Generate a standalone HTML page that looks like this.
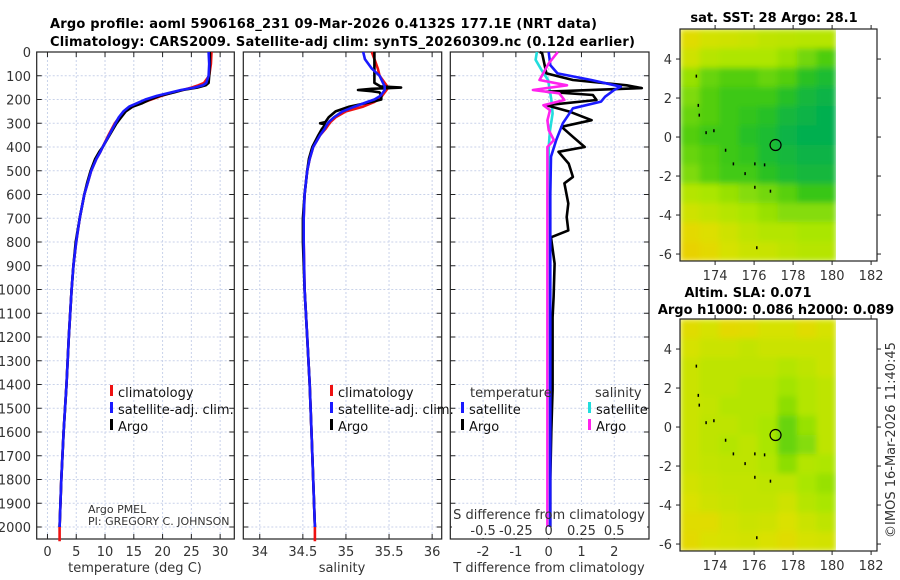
<!DOCTYPE html>
<html><head><meta charset="utf-8"><style>
html,body{margin:0;padding:0;background:#fff;}
svg{display:block;font-family:"DejaVu Sans","Liberation Sans",sans-serif;}
.tk{font-size:13px;fill:#333;}
.ttl{font-size:13px;font-weight:bold;fill:#000;}
.lg{font-size:13px;fill:#111;}
</style></head><body>
<svg id="fig" width="900" height="580" viewBox="0 0 900 580" xmlns="http://www.w3.org/2000/svg">
<defs>
<filter id="blur" x="0" y="0" width="1" height="1"><feGaussianBlur stdDeviation="3" edgeMode="duplicate"/></filter>
<clipPath id="c1"><rect x="680" y="29" width="156" height="232"/></clipPath>
<clipPath id="c2"><rect x="680" y="319" width="156" height="232"/></clipPath>
</defs>
<text class="ttl" x="50" y="28" textLength="547">Argo profile: aoml 5906168_231 09-Mar-2026 0.4132S 177.1E (NRT data)</text>
<text class="ttl" x="50" y="46" textLength="585">Climatology: CARS2009. Satellite-adj clim: synTS_20260309.nc (0.12d earlier)</text>
<text class="ttl" x="774" y="22" text-anchor="middle">sat. SST: 28 Argo: 28.1</text>
<text class="ttl" x="748" y="297" text-anchor="middle">Altim. SLA: 0.071</text>
<text class="ttl" x="776" y="314" text-anchor="middle">Argo h1000: 0.086 h2000: 0.089</text>
<text class="tk" transform="translate(895,440) rotate(-90)" text-anchor="middle">©IMOS 16-Mar-2026 11:40:45</text>
<g id="plots"></g>
</svg>
<script>
// ---- data ----
const depthTicks = [0,100,200,300,400,500,600,700,800,900,1000,1100,1200,1300,1400,1500,1600,1700,1800,1900,2000];
const tempTicks = [0,5,10,15,20,25,30];
const salTicks = [34,34.5,35,35.5,36];
const salTickLabels = ["34","34.5","35","35.5","36"];
const dtTicks = [-2,-1,0,1,2];
const dsTicks = [-0.5,-0.25,0,0.25,0.5];
const dsTickLabels = ["-0.5","-0.25","0","0.25","0.5"];

const tDepth = [0,50,100,130,140,150,160,170,185,200,215,230,250,275,300,350,400,420,450,500,550,600,700,800,900,1000,1200,1400,1600,1800,2000];
const tArgo = [28.2,28.2,28.1,28.0,27.5,26.0,23.5,22.0,19.5,17.8,16.5,14.8,13.6,12.8,12.0,10.8,9.6,9.0,8.3,7.5,6.9,6.4,5.6,4.9,4.5,4.2,3.7,3.3,2.8,2.4,2.1];
const tClimDepth = [0,50,100,130,140,150,160,170,185,200,215,230,250,275,300,350,400,420,450,500,550,600,700,800,900,1000,1200,1400,1600,1800,2000,2060];
const tClim = [28.5,28.4,28.1,27.2,26.2,25.0,23.5,21.8,19.8,18.0,16.3,14.8,13.5,12.5,11.7,10.6,9.6,9.2,8.5,7.6,7.0,6.4,5.6,5.0,4.5,4.2,3.7,3.3,2.8,2.4,2.1,2.1];
const tSat = [28.0,28.1,28.0,27.6,27.0,25.5,23.2,21.5,19.0,17.0,15.6,14.2,13.2,12.4,11.8,10.7,9.6,9.2,8.5,7.6,7.0,6.4,5.6,5.0,4.5,4.2,3.7,3.3,2.8,2.4,2.1];

const sDepth = [0,30,70,100,130,145,150,155,160,165,170,185,200,210,230,250,275,295,300,305,325,350,400,450,500,600,700,800,1000,1200,1400,1600,1800,2000];
const sArgo = [35.33,35.33,35.33,35.33,35.33,35.40,35.64,35.30,35.14,35.30,35.39,35.41,35.41,35.30,35.04,34.88,34.80,34.76,34.70,34.76,34.72,34.68,34.61,34.57,34.55,34.52,34.50,34.50,34.52,34.55,34.58,34.60,34.62,34.64];
const sClimDepth = [0,30,70,100,130,145,150,155,160,165,170,185,200,210,230,250,275,295,300,305,325,350,400,450,500,600,700,800,1000,1200,1400,1600,1800,2000,2060];
const sClim = [35.30,35.33,35.37,35.39,35.45,35.48,35.49,35.48,35.47,35.46,35.45,35.42,35.38,35.33,35.20,35.00,34.88,34.82,34.81,34.80,34.76,34.70,34.62,34.58,34.55,34.52,34.51,34.51,34.52,34.55,34.58,34.60,34.62,34.64,34.64];
const sSat = [35.20,35.22,35.30,35.39,35.43,35.45,35.45,35.45,35.45,35.44,35.43,35.40,35.33,35.25,35.10,34.96,34.86,34.80,34.79,34.78,34.75,34.70,34.62,34.58,34.55,34.52,34.51,34.51,34.52,34.55,34.58,34.60,34.62,34.64];

const dtArgoDepth = [0,5,90,118,140,152,167,181,202,224,252,287,315,357,400,420,470,526,553,638,695,751,780,891,1032,1117,1300,1420,1600,1800,2000];
const dtArgo = [-0.27,-0.2,-0.07,0.74,2.38,2.84,-0.07,1.35,1.46,-0.07,0.65,1.31,0.39,0.74,1.1,0.3,0.61,0.74,0.48,0.6,0.55,0.6,0.07,0.18,0.15,0.12,0.12,0.12,0.08,0.05,0.05];
const dtSatDepth = [0,55,90,118,146,160,188,209,237,300,371,441,600,1000,1500,2000];
const dtSat = [0.0,0.05,0.27,1.3,2.2,2.0,1.72,1.6,0.74,0.43,0.23,0.07,0.05,0.05,0.05,0.05];
const dsSatDepth = [0,33,80,118,200,259,330,400,1000,2000];
const dsSat = [-0.09,-0.1,-0.05,-0.004,0.02,0.03,0.01,0,0,0];
const dsArgoDepth = [0,48,118,140,160,174,202,224,245,288,329,371,400,600,1000,2000];
const dsArgo = [0.07,0,-0.07,0.14,-0.12,0.08,0.12,-0.04,0.01,-0.01,0,0.04,-0.01,-0.01,-0.01,-0.01];

const lonTicks = [174,176,178,180,182];
const latTicks = [4,2,0,-2,-4,-6];
const argoLon = [177.1];
const argoLat = [-0.41];
const sstGrid = [
[0.88,0.8,0.78,0.75,0.7,0.68,0.66,0.66],
[0.78,0.66,0.62,0.62,0.62,0.55,0.45,0.35],
[0.55,0.42,0.36,0.36,0.42,0.36,0.22,0.15],
[0.48,0.36,0.3,0.3,0.3,0.2,0.1,0.05],
[0.42,0.36,0.3,0.25,0.2,0.1,0.05,0.0],
[0.36,0.3,0.3,0.2,0.15,0.05,0.0,0.0],
[0.42,0.36,0.3,0.25,0.15,0.1,0.05,0.05],
[0.48,0.38,0.32,0.32,0.22,0.15,0.1,0.1],
[0.65,0.6,0.55,0.5,0.45,0.38,0.28,0.28],
[0.78,0.72,0.66,0.6,0.55,0.5,0.5,0.5],
[0.9,0.86,0.78,0.7,0.65,0.65,0.6,0.6],
[0.94,0.9,0.82,0.76,0.75,0.7,0.66,0.66]];
const slaGrid = [
[0.88,0.82,0.9,0.88,0.82,0.82,0.88,0.82],
[0.82,0.76,0.76,0.72,0.76,0.76,0.76,0.76],
[0.76,0.7,0.7,0.7,0.7,0.65,0.7,0.76],
[0.76,0.7,0.7,0.65,0.65,0.58,0.65,0.7],
[0.76,0.72,0.65,0.65,0.65,0.52,0.65,0.7],
[0.76,0.7,0.7,0.65,0.6,0.42,0.55,0.7],
[0.76,0.7,0.65,0.7,0.6,0.42,0.5,0.7],
[0.76,0.72,0.7,0.7,0.65,0.52,0.65,0.62],
[0.8,0.75,0.72,0.72,0.7,0.7,0.6,0.55],
[0.84,0.78,0.75,0.72,0.72,0.78,0.66,0.6],
[0.88,0.88,0.8,0.76,0.78,0.84,0.76,0.7],
[0.9,0.84,0.82,0.8,0.84,0.88,0.82,0.8]];

// ---- drawing ----
const NS = "http://www.w3.org/2000/svg";
const root = document.getElementById("plots");
function mk(tag, attrs, parent){
  const e = document.createElementNS(NS, tag);
  for (const k in attrs) e.setAttribute(k, attrs[k]);
  (parent||root).appendChild(e);
  return e;
}
const TOP = 52, BOT = 539;
const yD = d => TOP + d * 0.2375;

function axisPanel(name, x0, x1, xmin, xmax, ticks, labels, showY){
  const xs = v => x0 + (v - xmin) / (xmax - xmin) * (x1 - x0);
  const g = mk("g", {});
  
  
  ticks.forEach((t,i) => {
    const gl = mk("line", {x1: xs(t), x2: xs(t), y1: TOP, y2: BOT, stroke: "#c9d2ea", "stroke-dasharray": "2,2", "stroke-width": 1}, g);
    
    
    mk("line", {x1: xs(t), x2: xs(t), y1: BOT, y2: BOT-5, stroke: "#222"}, g);
    mk("line", {x1: xs(t), x2: xs(t), y1: TOP, y2: TOP+5, stroke: "#222"}, g);
    const tl = mk("text", {x: xs(t), y: 556, "text-anchor": "middle", class: "tk"}, g);
    
    
    tl.textContent = labels[i];
  });
  depthTicks.forEach(d => {
    const gl = mk("line", {x1: x0, x2: x1, y1: yD(d), y2: yD(d), stroke: "#c9d2ea", "stroke-dasharray": "2,2", "stroke-width": 1}, g);
    
    
    mk("line", {x1: x0, x2: x0+5, y1: yD(d), y2: yD(d), stroke: "#222"}, g);
    mk("line", {x1: x1, x2: x1-5, y1: yD(d), y2: yD(d), stroke: "#222"}, g);
    if (showY){
      const tl = mk("text", {x: 31, y: yD(d)+5, "text-anchor": "end", class: "tk"}, g);
      
      
      tl.textContent = d;
    }
  });
  const fr = mk("rect", {x: x0, y: TOP, width: x1-x0, height: BOT-TOP, fill: "none", stroke: "#222", "stroke-width": 1.2}, g);
  
  
  return {g, xs};
}
function series(p, depths, vals, color, name, scale){
  const sc = scale || 1;
  const pts = depths.map((d,i) => p.xs(vals[i]*sc).toFixed(1) + "," + yD(d).toFixed(1)).join(" ");
  const l = mk("polyline", {points: pts, fill: "none", stroke: color, "stroke-width": 2.6, "stroke-linejoin": "round"}, p.g);
  
  
}
function legendItem(g, x, y, color, label, name){
  const m = mk("rect", {x: x, y: y-7, width: 3, height: 11, fill: color}, g);
  
  
  const t = mk("text", {x: x+8, y: y+5, class: "lg"}, g);
  
  
  t.textContent = label;
}
function txt(g, x, y, s, name, anchor, size){
  const t = mk("text", {x: x, y: y, class: "tk", "text-anchor": anchor||"start"}, g);
  if (size) t.setAttribute("style", "font-size:"+size+"px");
  
  
  t.textContent = s;
}

// Panel 1 temperature
const p1 = axisPanel("temperature", 36.7, 234.3, -1.87, 32.46, tempTicks, tempTicks.map(String), true);
series(p1, tClimDepth, tClim, "#ee1111", "temperature-climatology-line");
series(p1, tDepth, tArgo, "#000000", "temperature-argo-line");
series(p1, tDepth, tSat, "#1a1aff", "temperature-satellite-line");
legendItem(p1.g, 110, 392, "#ee1111", "climatology", "legend-climatology");
legendItem(p1.g, 110, 409, "#1a1aff", "satellite-adj. clim.", "legend-satellite");
legendItem(p1.g, 110, 426, "#000", "Argo", "legend-argo");
txt(p1.g, 88, 513, "Argo PMEL", "argo-pmel-label", "start", 11);
txt(p1.g, 88, 525, "PI: GREGORY C. JOHNSON", "pi-label", "start", 11);
txt(p1.g, 135, 572, "temperature (deg C)", "temperature-axis-title", "middle");

// Panel 2 salinity
const p2 = axisPanel("salinity", 243.3, 441.7, 33.809, 36.111, salTicks, salTickLabels, false);
series(p2, sClimDepth, sClim, "#ee1111", "salinity-climatology-line");
series(p2, sDepth, sArgo, "#000000", "salinity-argo-line");
series(p2, sDepth, sSat, "#1a1aff", "salinity-satellite-line");
legendItem(p2.g, 330, 392, "#ee1111", "climatology", "legend2-climatology");
legendItem(p2.g, 330, 409, "#1a1aff", "satellite-adj. clim.", "legend2-satellite");
legendItem(p2.g, 330, 426, "#000", "Argo", "legend2-argo");
txt(p2.g, 342, 572, "salinity", "salinity-axis-title", "middle");

// Panel 3 differences
const p3 = axisPanel("difference", 450.3, 649, -3.0, 3.06, dtTicks, dtTicks.map(String), false);
const wb = mk("rect", {x: 452, y: 505, width: 195, height: 33, fill: "#fff"}, p3.g);


series(p3, dsSatDepth, dsSat, "#22dddd", "salinity-satellite-diff-line", 4);
series(p3, dtArgoDepth, dtArgo, "#000000", "temperature-argo-diff-line");
series(p3, dtSatDepth, dtSat, "#1a1aff", "temperature-satellite-diff-line");
series(p3, dsArgoDepth, dsArgo, "#ff22ee", "salinity-argo-diff-line", 4);
txt(p3.g, 549, 519, "S difference from climatology", "s-difference-title", "middle");
dsTicks.forEach((t,i) => {
  const tl = mk("text", {x: p3.xs(t*4), y: 535, "text-anchor": "middle", class: "tk"}, p3.g);
  
  
  tl.textContent = dsTickLabels[i];
});
txt(p3.g, 549, 572, "T difference from climatology", "t-difference-title", "middle");
txt(p3.g, 470, 397, "temperature", "legend3-temperature-header");
txt(p3.g, 595, 397, "salinity", "legend3-salinity-header");
legendItem(p3.g, 461, 409, "#1a1aff", "satellite", "legend3-temp-satellite");
legendItem(p3.g, 461, 426, "#000", "Argo", "legend3-temp-argo");
legendItem(p3.g, 588, 409, "#22dddd", "satellite", "legend3-sal-satellite");
legendItem(p3.g, 588, 426, "#ff22ee", "Argo", "legend3-sal-argo");

// Maps
function cmap(t){
  const stops = [[0,[0,175,80]],[0.3,[60,200,20]],[0.6,[170,230,0]],[0.85,[220,225,0]],[1,[240,200,0]]];
  for (let i=1;i<stops.length;i++){
    if (t <= stops[i][0]){
      const a = stops[i-1], b = stops[i], f = (t-a[0])/(b[0]-a[0]);
      return "rgb(" + a[1].map((c,j)=>Math.round(c+(b[1][j]-c)*f)).join(",") + ")";
    }
  }
  return "rgb(240,200,0)";
}
function drawMap(name, top, grid, clipId){
  const bottom = top + 232;
  const lonX = lon => 680 + (lon - 172.2) * 19.5;
  const latY = lat => top + (5.54 - lat) * 19.5;
  const g = mk("g", {});
  
  
  const cg = mk("g", {"clip-path": "url(#" + clipId + ")"}, g);
  const bg = mk("g", {filter: "url(#blur)"}, cg);
  const cw = 156 / grid[0].length, ch = 232 / grid.length;
  grid.forEach((row, r) => row.forEach((v, c) => {
    const cell = mk("rect", {x: 680 + c*cw, y: top + r*ch, width: cw+0.5, height: ch+0.5, fill: cmap(v)}, bg);
    
    
  }));
  const fr = mk("rect", {x: 680, y: top, width: 197, height: 232, fill: "none", stroke: "#222", "stroke-width": 1.2}, g);
  
  
  lonTicks.forEach(l => {
    mk("line", {x1: lonX(l), x2: lonX(l), y1: bottom, y2: bottom+4, stroke: "#222"}, g);
    mk("line", {x1: lonX(l), x2: lonX(l), y1: top, y2: top-4, stroke: "#222"}, g);
    const tl = mk("text", {x: lonX(l), y: bottom + 19, "text-anchor": "middle", class: "tk"}, g);
    
    
    tl.textContent = l;
  });
  latTicks.forEach(l => {
    mk("line", {x1: 680, x2: 676, y1: latY(l), y2: latY(l), stroke: "#222"}, g);
    mk("line", {x1: 877, x2: 881, y1: latY(l), y2: latY(l), stroke: "#222"}, g);
    const tl = mk("text", {x: 672, y: latY(l)+5, "text-anchor": "end", class: "tk"}, g);
    
    
    tl.textContent = l;
  });
  const isl = [[173.0,3.2],[173.1,1.7],[173.15,1.2],[173.5,0.3],[173.9,0.4],[174.5,-0.6],[174.9,-1.3],[175.5,-1.8],[176.0,-1.3],[176.5,-1.35],[176.0,-2.5],[176.8,-2.7],[176.1,-5.6]];
  isl.forEach(p => {
    const d = mk("rect", {x: lonX(p[0]), y: latY(p[1]), width: 1.5, height: 3, fill: "#000"}, g);
    
    
  });
  argoLon.forEach((lo, i) => {
    const c = mk("circle", {cx: lonX(lo), cy: latY(argoLat[i]), r: 5.5, fill: "none", stroke: "#000", "stroke-width": 1.2}, g);
    
    
  });
}
drawMap("sst", 29, sstGrid, "c1");
drawMap("sla", 319, slaGrid, "c2");
</script>
</body></html>
